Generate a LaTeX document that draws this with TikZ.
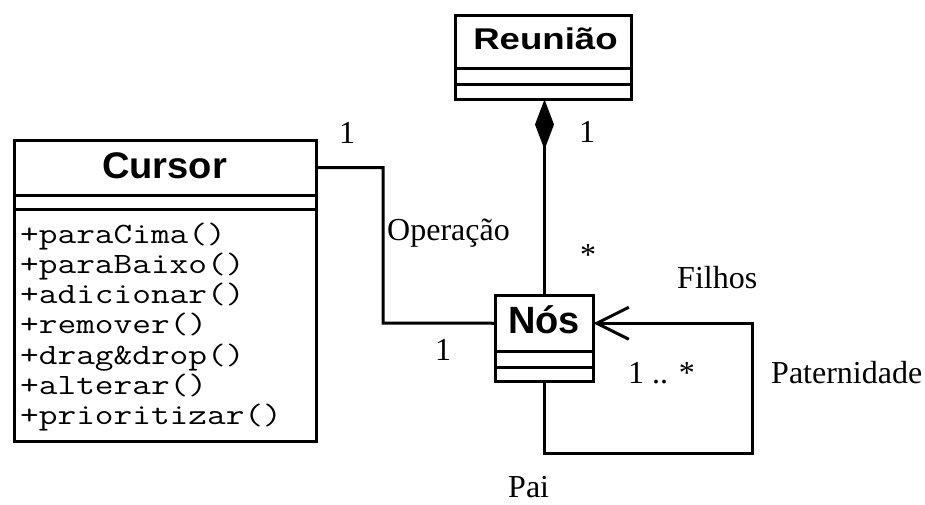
\documentclass[tikz,border=0pt]{standalone}
\usepackage{fontspec}
\usepackage{graphicx}
\setmainfont{Liberation Serif}
\newfontfamily\umlsans{Liberation Sans}
\usetikzlibrary{arrows.meta}
\begin{document}
\begin{tikzpicture}[x=1pt,y=-1pt,
  uml/.style={draw, line width=3pt, inner sep=0pt, outer sep=0pt, anchor=north},
  conn/.style={line width=3pt},
  lbl/.style={font=\fontsize{32}{36}\selectfont, inner sep=0pt},
  meth/.style={font=\ttfamily\fontsize{29.5}{30}\selectfont, inner sep=0pt, anchor=base west},
  ttl/.style={font=\umlsans\bfseries, inner sep=0pt, anchor=base}]
\useasboundingbox (0,0) rectangle (925,504);

% Cursor class
\node[uml, minimum width=302pt, minimum height=55pt] (cursor) at (165.5,140) {};
\node[uml, minimum width=302pt, minimum height=14.5pt] (cursorattr) at (cursor.south) {};
\node[uml, minimum width=302pt, minimum height=232pt] (cursorops) at (cursorattr.south) {};
\node[ttl] (cursorname) at (164.5,178) {\scalebox{1.03}[1]{\fontsize{37}{40}\selectfont Cursor}};
\foreach \t [count=\i from 0] in {+paraCima(),+paraBaixo(),+adicionar(),+remover(),+drag\&drop(),+alterar(),+prioritizar()}
  \node[meth] (m\i) at ({20},{243+30.3*\i}) {\scalebox{1.23}[1]{\t}};

% Reuniao class
\node[uml, minimum width=176pt, minimum height=52.5pt] (reuniao) at (543.5,15.5) {};
\node[uml, minimum width=176pt, minimum height=16.5pt] (reuniaoattr) at (reuniao.south) {};
\node[uml, minimum width=176pt, minimum height=15pt] (reuniaoops) at (reuniaoattr.south) {};
\node[ttl] (reuniaoname) at (545.5,49) {\scalebox{1.22}[1]{\fontsize{30}{34}\selectfont Reunião}};

% Nos class
\node[uml, minimum width=98pt, minimum height=55.5pt] (nos) at (544.5,295.5) {};
\node[uml, minimum width=98pt, minimum height=16pt] (nosattr) at (nos.south) {};
\node[uml, minimum width=98pt, minimum height=14.5pt] (nosops) at (nosattr.south) {};
\node[ttl] (nosname) at (544,333) {\fontsize{38}{42}\selectfont Nós};

% connectors
\coordinate (opbend) at (383,323);
\draw[conn] (cursor.east) -| (opbend) -- (nos.west);
\draw[conn, -{Diamond[length=50pt,width=19pt]}] (nos.north) -- (nos.north |- reuniaoops.south);
\coordinate (loopcorner) at (752,453);
\draw[conn, -{Straight Barb[length=32pt,width=32pt]}] (nosops.south) |- (loopcorner) |- (nos.east);

% labels
\node[lbl, anchor=base] (mcur) at (347,143) {1};
\node[lbl, anchor=base] (mreu) at (587,142) {1};
\node[lbl, anchor=base west] (opname) at (387,240) {Operação};
\node[lbl, anchor=base] (mstar) at (588,265) {*};
\node[lbl, anchor=base west] (filhos) at (677,288) {Filhos};
\node[lbl, anchor=base] (mnos) at (443,360) {1};
\node[lbl, anchor=base west] (mself) at (628,383) {1 .. *};
\node[lbl, anchor=base west] (patern) at (771,383) {Paternidade};
\node[lbl, anchor=base west] (pai) at (508,497) {Pai};
\end{tikzpicture}
\end{document}
